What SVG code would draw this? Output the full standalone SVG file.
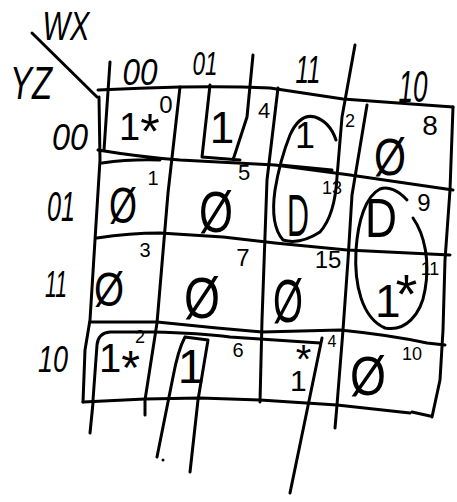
<svg xmlns="http://www.w3.org/2000/svg" width="457" height="502" viewBox="0 0 457 502">
<style>
.ln{fill:none;stroke:#000;stroke-width:3;stroke-linecap:round;stroke-linejoin:round}
text{font-family:"Liberation Sans",Arial,sans-serif;fill:#000;text-anchor:middle}
text.st{text-anchor:start}
.lbl{font-style:italic}
</style>
<rect width="457" height="502" fill="#fff"/>
<g id="axis-labels">
<path class="ln" d="M32,33 L97,97"/>
<text class="lbl" x="66" y="40" font-size="40" textLength="47" lengthAdjust="spacingAndGlyphs">WX</text>
<text class="lbl" x="31" y="99" font-size="46" textLength="42" lengthAdjust="spacingAndGlyphs">YZ</text>
<text class="lbl" x="140" y="85" font-size="36" textLength="35" lengthAdjust="spacingAndGlyphs">00</text>
<text class="lbl" x="205" y="75" font-size="34" textLength="25" lengthAdjust="spacingAndGlyphs">01</text>
<text class="lbl" x="308" y="83" font-size="38" textLength="25" lengthAdjust="spacingAndGlyphs">11</text>
<text class="lbl" x="413" y="102" font-size="44" textLength="29" lengthAdjust="spacingAndGlyphs">10</text>
<text class="lbl" x="70" y="150" font-size="36" textLength="36" lengthAdjust="spacingAndGlyphs">00</text>
<text class="lbl" x="61" y="221" font-size="42" textLength="28" lengthAdjust="spacingAndGlyphs">01</text>
<text class="lbl" x="56" y="297" font-size="36" textLength="22" lengthAdjust="spacingAndGlyphs">11</text>
<text class="lbl" x="53" y="372" font-size="36" textLength="30" lengthAdjust="spacingAndGlyphs">10</text>
</g>
<g id="grid">
<path class="ln" d="M99,97 L100,160 L95,240 L90,320 L85,350 L83,402"/>
<path class="ln" d="M93,403 L90,433"/>
<path class="ln" d="M98,90 Q140,88 180,87 Q230,86 270,88 L343,99 Q400,103 453,107"/>
<path class="ln" d="M453,107 L450,190 L445,260 L443,330 L440,380 L432,417 M412,412 L430,416"/>
<path class="ln" d="M83,402 L145,399 L200,398 L260,400 L337,405 L410,413"/>
<path class="ln" d="M98,150 Q140,157 180,160 L275,165 L350,175 L453,190 M102,163 Q130,159 160,160"/>
<path class="ln" d="M97,238 Q130,233 160,233 L223,237 L275,243 L347,250 L450,255"/>
<path class="ln" d="M90,322 L157,322 L217,328 L262,332 L340,330 Q390,335 427,343 L445,345"/>
<path class="ln" d="M180,87 L168,193 L157,323 L145,400 L145,415"/>
<path class="ln" d="M278,88 L267,180 L262,320 L260,402"/>
<path class="ln" d="M367,105 L352,195 L348,260 L343,330 L337,405 L335,428"/>
</g>
<g id="groupings">
<path class="ln" d="M110,62 L104,150"/>
<path class="ln" d="M210,85 L202,157 L240,160 M253,55 L247,117 L233,160"/>
<path class="ln" d="M355,45 L342,117 L337,177 Q335,215 320,232 Q300,245 283,240 Q270,225 275,190 Q280,160 290,135 Q300,113 315,117 Q330,122 336,140 M280,165 L332,170"/>
<path class="ln" d="M407,200 C398,190 388,186 380,189 C366,196 358,220 356,250 C354,285 362,318 385,328 C405,332 421,315 425,290 C430,262 425,235 413,218"/>
<path class="ln" d="M93,400 L97,345 Q98,333 110,332 L153,332 Q200,333 230,337 L320,343"/>
<path class="ln" d="M185,337 L208,340 M185,337 Q178,350 173,377 L157,457 M208,340 L198,400 L190,472"/>
<circle cx="163" cy="460" r="1.5" fill="#000"/>
<path class="ln" d="M322,338 L290,493"/>
</g>
<g id="cell-0"><text class="st" x="119" y="140" font-size="38">1<tspan font-size="50" dy="9">*</tspan></text><text x="166" y="113" font-size="24">0</text></g>
<g id="cell-4"><text x="222" y="143" font-size="44">1</text><text x="264" y="118" font-size="22">4</text></g>
<g id="cell-12"><text x="305" y="148" font-size="36">1</text><text x="350" y="127" font-size="18">2</text></g>
<g id="cell-8"><text x="390" y="175" font-size="52" textLength="32" lengthAdjust="spacingAndGlyphs">Ø</text><text x="430" y="135" font-size="28">8</text></g>
<g id="cell-1"><text x="123" y="223" font-size="50" textLength="28" lengthAdjust="spacingAndGlyphs">Ø</text><text x="153" y="185" font-size="20">1</text></g>
<g id="cell-5"><text x="216" y="232" font-size="58" textLength="34" lengthAdjust="spacingAndGlyphs">Ø</text><text x="244" y="180" font-size="22">5</text></g>
<g id="cell-13"><text x="298" y="236" font-size="60" textLength="22" lengthAdjust="spacingAndGlyphs">D</text><text x="332" y="194" font-size="18">13</text></g>
<g id="cell-9"><text x="381" y="237" font-size="56" textLength="32" lengthAdjust="spacingAndGlyphs">D</text><text x="424" y="211" font-size="24">9</text></g>
<g id="cell-3"><text x="109" y="306" font-size="48" textLength="30" lengthAdjust="spacingAndGlyphs">Ø</text><text x="145" y="257" font-size="20">3</text></g>
<g id="cell-7"><text x="202" y="318" font-size="58" textLength="36" lengthAdjust="spacingAndGlyphs">Ø</text><text x="243" y="266" font-size="24">7</text></g>
<g id="cell-15"><text x="288" y="322" font-size="62" textLength="30" lengthAdjust="spacingAndGlyphs">Ø</text><text x="328" y="268" font-size="24">15</text></g>
<g id="cell-11"><text class="st" x="375" y="317" font-size="46">1<tspan font-size="56" dx="-5" dy="-4">*</tspan></text><text x="430" y="275" font-size="18">11</text></g>
<g id="cell-2"><text class="st" x="99" y="372" font-size="40">1<tspan font-size="48" dy="12">*</tspan></text><text x="140" y="343" font-size="18">2</text></g>
<g id="cell-6"><text x="191" y="383" font-size="48">1</text><text x="238" y="357" font-size="20">6</text></g>
<g id="cell-14"><text class="st" x="290" y="391" font-size="30">1<tspan font-size="40" dx="-11" dy="-18">*</tspan></text><text x="332" y="347" font-size="16">4</text></g>
<g id="cell-10"><text x="368" y="395" font-size="56" textLength="36" lengthAdjust="spacingAndGlyphs">Ø</text><text x="412" y="360" font-size="18">10</text></g>
</svg>
